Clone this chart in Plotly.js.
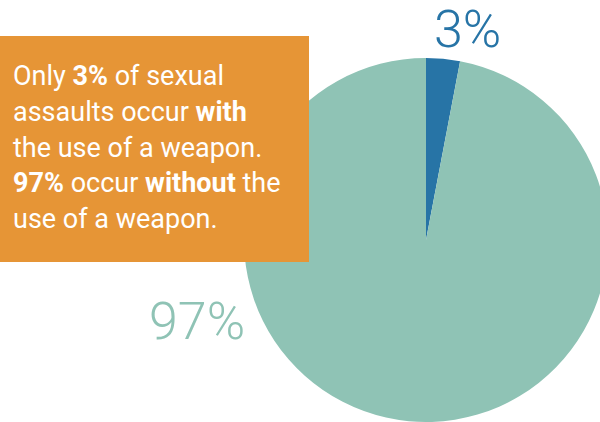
<!DOCTYPE html>
<html>
<head>
<meta charset="utf-8">
<script src="https://cdn.plot.ly/plotly-3.0.1.min.js"></script>
<style>
html,body{margin:0;padding:0;overflow:hidden;background:#fff;width:600px;height:422px;}
#chart{width:640px;height:422px;}
</style>
</head>
<body>
<div id="chart"></div>
<script>
// Data
const labels = ["With a weapon", "Without a weapon"];
const values = [3, 97];
const sliceLabels = ["3%", "97%"];
const colors = ["#2774A6", "#8FC3B5"];
const calloutLines = [
  "Only <b>3%</b> of sexual",
  "assaults occur <b>with</b>",
  "the use of a weapon.",
  "<b>97%</b> occur <b>without</b> the",
  "use of a weapon."
];

const W = 640, H = 422;
const px = x => x / W;
const py = y => 1 - y / H;

const annotations = [];
const baselines = [85, 121, 157, 192, 228];
calloutLines.forEach((t, i) => {
  annotations.push({
    text: t, xref: "paper", yref: "paper",
    x: px(11), y: py(baselines[i] - 9), xanchor: "left", yanchor: "middle",
    showarrow: false, align: "left",
    font: {family: "Roboto", size: 27, color: "#ffffff"}
  });
});
annotations.push({
  text: sliceLabels[0], xref: "paper", yref: "paper",
  x: px(467), y: py(30), xanchor: "center", yanchor: "middle", showarrow: false,
  font: {family: "Roboto", size: 52, color: colors[0], weight: 300}
});
annotations.push({
  text: sliceLabels[1], xref: "paper", yref: "paper",
  x: px(197), y: py(321), xanchor: "center", yanchor: "middle", showarrow: false,
  font: {family: "Roboto", size: 52, color: colors[1], weight: 300}
});

const trace = {
  type: "pie",
  labels: labels,
  values: values,
  sort: false,
  direction: "clockwise",
  rotation: 0,
  textinfo: "none",
  hoverinfo: "label+percent",
  marker: {colors: colors, line: {width: 0}},
  domain: {x: [px(244), px(608)], y: [0, py(58)]},
  showlegend: false
};

const layout = {
  width: W, height: H,
  margin: {l: 0, r: 0, t: 0, b: 0},
  paper_bgcolor: "#ffffff",
  plot_bgcolor: "#ffffff",
  showlegend: false,
  shapes: [{
    type: "rect", xref: "paper", yref: "paper", layer: "above",
    x0: 0, x1: px(309), y0: py(262), y1: py(36),
    fillcolor: "#E69536", line: {width: 0}
  }],
  annotations: annotations
};

Plotly.newPlot("chart", [trace], layout, {displayModeBar: false, staticPlot: true});
</script>
</body>
</html>
